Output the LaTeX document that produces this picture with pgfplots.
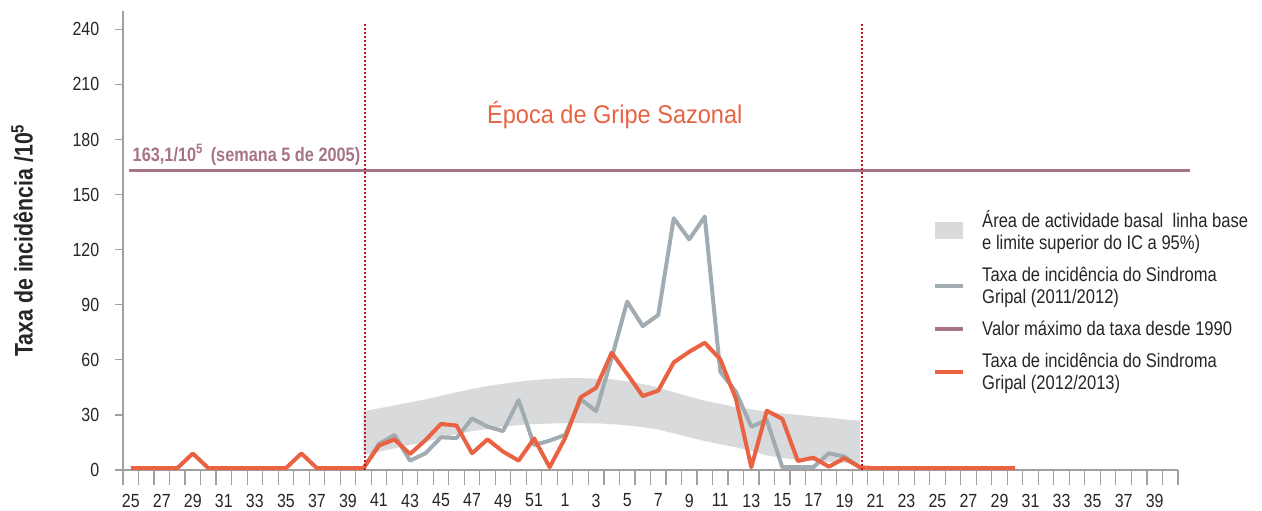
\documentclass[border=0pt]{standalone}
\usepackage{pgfplots}
\pgfplotsset{compat=1.18}
\usepackage{pgfplotstable}
\usepgfplotslibrary{fillbetween}
\usepackage{fontspec}
\setmainfont{Liberation Sans}[FakeStretch=0.84]
\newfontfamily\titlefont{Liberation Sans}[FakeStretch=0.92]
\definecolor{cOrange}{RGB}{233,98,66}
\definecolor{cGray}{RGB}{160,172,178}
\definecolor{cBand}{RGB}{217,218,220}
\definecolor{cPurple}{RGB}{166,115,135}
\definecolor{cRed}{RGB}{204,16,40}
\definecolor{cAxis}{RGB}{160,160,160}

\pgfplotstableread{
x y
0 1
1 1
2 1
3 1
4 9
5 1
6 1
7 1
8 1
9 1
10 1
11 9
12 1
13 1
14 1
15 1
16 13.3
17 16.7
18 8.7
19 16.3
20 25.1
21 24.2
22 9.1
23 16.7
24 10.0
25 5.1
26 17.2
27 1.5
28 17.4
29 39.6
30 44.8
31 63.9
32 52.3
33 40.3
34 43.2
35 58.6
36 64.4
37 69.3
38 60.3
39 39.0
40 1.5
41 32.3
42 27.8
43 4.9
44 6.7
45 1.8
46 6.4
47 1.5
48 1
49 1
50 1
51 1
52 1
53 1
54 1
55 1
56 1
57 1
}\orangedata

\pgfplotstableread{
x y
15 1
16 14.2
17 19.1
18 5.1
19 9.1
20 17.8
21 17.4
22 28.1
23 23.6
24 21.2
25 38.1
26 13.6
27 16.0
28 19.1
29 38.5
30 32.1
31 61.0
32 91.7
33 78.4
34 84.4
35 137.1
36 125.6
37 138.0
38 53.5
39 42.7
40 23.6
41 27.2
42 1.5
43 1.5
44 1.5
45 9.1
46 7.3
47 1.5
}\graydata

\pgfplotstableread{
x lo hi
15 8.2 32.0
16 10.0 33.6
17 11.8 35.2
18 13.6 36.8
19 15.3 38.5
20 17.6 40.4
21 19.6 42.3
22 21.2 44.1
23 22.3 45.7
24 23.5 47.0
25 24.5 48.1
26 25.0 49.0
27 25.3 49.6
28 25.5 50.0
29 25.5 50.0
30 25.4 49.8
31 25.0 49.4
32 24.3 48.3
33 23.3 46.8
34 22.0 45.0
35 20.0 42.3
36 17.8 40.0
37 15.8 37.7
38 14.0 36.0
39 12.4 34.3
40 10.4 33.0
41 8.0 31.8
42 6.5 30.8
43 5.5 30.0
44 4.8 29.2
45 4.2 28.4
46 3.8 27.6
47 3.5 26.9
}\banddata

\begin{document}
\begin{tikzpicture}
\begin{axis}[
  at={(123pt,39pt)}, anchor=south west,
  scale only axis, width=1055pt, height=459pt,
  xmin=-0.5, xmax=67.5, ymin=0, ymax=250,
  clip=false,
  axis x line*=bottom, axis y line*=left,
  axis line style={-, draw=cAxis, line width=1.6pt},
  tick align=outside,
  xtick={-0.5,0.5,...,67.5},
  x tick label as interval,
  xticklabels={25,,27,,29,,31,,33,,35,,37,,39,,41,,43,,45,,47,,49,,51,,1,,3,,5,,7,,9,,11,,13,,15,,17,,19,,21,,23,,25,,27,,29,,31,,33,,35,,37,,39,},
  ytick={0,30,...,240},
  /pgf/number format/assume math mode=true,
  xtick style={draw=cAxis, line width=1.2pt, /pgfplots/major tick length=15pt},
  ytick style={draw=cAxis, line width=1.2pt, /pgfplots/major tick length=8pt},
  xticklabel style={font=\fontsize{19}{21}\selectfont, text=black!85, yshift=-16pt},
  yticklabel style={font=\fontsize{19}{21}\selectfont, text=black!85, xshift=-16pt},
  ylabel={\textbf{Taxa de incidência /10\textsuperscript{5}}},
  every axis y label/.style={at={(axis description cs:-0.0955,0.5)}, rotate=90, anchor=center, font=\fontsize{25.4}{28}\selectfont, text=black!85},
  legend style={at={(axis description cs:0.765,0.575)}, anchor=north west, draw=none, fill=none,
    font=\fontsize{19.7}{22}\selectfont, text=black!85, row sep=12pt,
    cells={anchor=west, align=left}},
  legend cell align=left,
  legend image code/.code={\draw[#1, line width=4pt] (0pt,0pt) -- (28pt,0pt); \path (43pt,0pt);},
]
\addplot[name path=hi, draw=none, forget plot] table[x=x, y=hi] {\banddata};
\addplot[name path=lo, draw=none, forget plot] table[x=x, y=lo] {\banddata};
\addplot[fill=cBand, draw=none, area legend,
  legend image code/.code={\fill[cBand] (0pt,-8.5pt) rectangle (28pt,8.5pt); \path (43pt,0pt);}]
  fill between[of=hi and lo];
\addlegendentry{Área de actividade basal\ \ linha base\\e limite superior do IC a 95\%)}

\addplot[cGray, line width=4pt, line join=round] table[x=x, y=y] {\graydata};
\addlegendentry{Taxa de incidência do Sindroma\\Gripal (2011/2012)}

\addplot[cPurple, line width=3.5pt] coordinates {(-0.1,163.1) (68.3,163.1)};
\addlegendentry{Valor máximo da taxa desde 1990}

\addplot[cOrange, line width=4pt, line join=round] table[x=x, y=y] {\orangedata};
\addlegendentry{Taxa de incidência do Sindroma\\Gripal (2012/2013)}

\addplot[cRed, line width=2pt, dash pattern=on 2pt off 2pt, forget plot] coordinates {(15.1,0) (15.1,243.5)};
\addplot[cRed, line width=2pt, dash pattern=on 2pt off 2pt, forget plot] coordinates {(47.15,0) (47.15,243.5)};

\node[anchor=west, text=cPurple, font=\fontsize{19.4}{21}\selectfont\bfseries] at (axis cs:-0.1,171.6) {163,1/10\textsuperscript{5}\, (semana 5 de 2005)};
\node[anchor=center, text=cOrange, font=\titlefont\fontsize{25.6}{28}\selectfont] at (axis cs:31.2,193.4) {Época de Gripe Sazonal};
\end{axis}
\path (0,0) rectangle (1262pt,509pt);
\end{tikzpicture}
\end{document}
